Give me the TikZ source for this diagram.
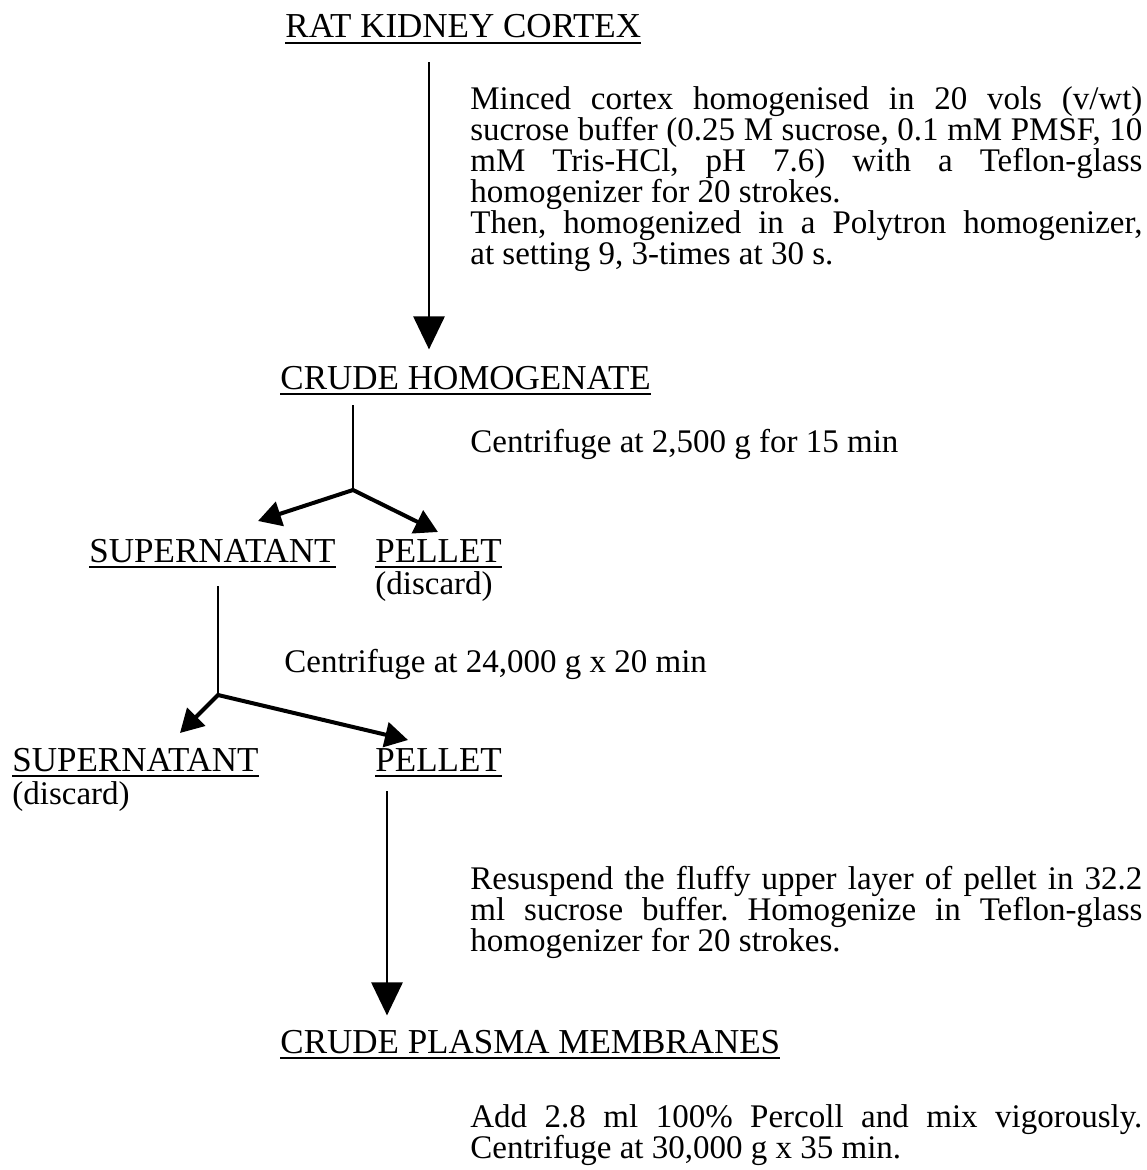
\documentclass[tikz,border=0pt]{standalone}
\usepackage{fontspec}
\setmainfont{Liberation Serif}
\usepackage{tikz}
\usetikzlibrary{arrows.meta,positioning}

\newcommand{\bodyfont}{\fontsize{16.5}{15.5}\selectfont\frenchspacing\lineskiplimit=-20pt\hyphenpenalty=10000\exhyphenpenalty=10000}
\newcommand{\headfont}{\fontsize{17.5}{16}\selectfont}
\newcommand{\ulabel}[1]{\setbox0\hbox{#1}\rlap{\rule[-3pt]{\wd0}{1.1pt}}\box0}

\begin{document}
\begin{tikzpicture}[
    x=0.5pt, y=-0.5pt,
    stage/.style={anchor=base west, inner sep=0pt, font=\headfont},
    plain/.style={anchor=base west, inner sep=0pt, font=\bodyfont},
    note/.style={anchor=base west, inner sep=0pt, text width=336pt, align=justify, font=\bodyfont},
    stemline/.style={line width=1.4pt},
    arrow/.style={-{Triangle[length=16.5pt, width=15.5pt]}, line width=1.4pt},
    branch/.style={-{Triangle[length=11.5pt, width=12.5pt]}, line width=2pt, line cap=round}
]
\useasboundingbox (0,0) rectangle (1146,1170);

% Stages
\node[stage] (kidney) at (285,38) {\ulabel{RAT KIDNEY CORTEX}};
\node[stage] (crude) at (280,389) {\ulabel{CRUDE HOMOGENATE}};
\node[stage, anchor=base east] (super1) at (336,562) {\ulabel{SUPERNATANT}};
\node[stage] (pellet1) at (375,562) {\ulabel{PELLET}};
\node[plain] (discard1) at ([yshift=-16pt]pellet1.base west) {(discard)};
\node[stage] (super2) at (12,771) {\ulabel{SUPERNATANT}};
\node[plain] (discard2) at ([yshift=-16.5pt]super2.base west) {(discard)};
\node[stage] (pellet2) at (375,771) {\ulabel{PELLET}};
\node[stage] (membranes) at (280,1053) {\ulabel{CRUDE PLASMA MEMBRANES}};

% Steps
\node[note] (homog) at (470,110) {Minced cortex homogenised in 20 vols (v/wt)\linebreak
  sucrose buffer (0.25 M sucrose, 0.1 mM PMSF, 10\linebreak
  mM Tris-HCl, pH 7.6) with a Teflon-glass\linebreak
  homogenizer for 20 strokes.\par
  Then, homogenized in a Polytron homogenizer,\linebreak
  at setting 9, 3-times at 30 s.};
\node[plain] (spin1) at (470,452) {Centrifuge at 2,500 g for 15 min};
\node[plain] (spin2) at (284,672) {Centrifuge at 24,000 g x 20 min};
\node[note] (resus) at (470,889) {Resuspend the fluffy upper layer of pellet in 32.2\linebreak
  ml sucrose buffer. Homogenize in Teflon-glass\linebreak
  homogenizer for 20 strokes.};
\node[note] (percoll) at (470,1127) {Add 2.8 ml 100\% Percoll and mix vigorously.\linebreak
  Centrifuge at 30,000 g x 35 min.};

% Forks
\coordinate (stem1) at (429,0);
\coordinate (fork1) at (353,490);
\coordinate (left1) at (258,521);
\coordinate (right1) at (438,532);
\coordinate (fork2) at (218,695);
\coordinate (left2) at (180,733);
\coordinate (right2) at (408,740);
\coordinate (stem2) at (387,0);

% Connections
\draw[arrow, shorten <=9pt, shorten >=8pt] (kidney.south -| stem1) -- (crude.north -| stem1);
\draw[stemline, shorten <=5pt] (crude.south -| fork1) -- (fork1);
\draw[branch] (fork1) -- (left1);
\draw[branch] (fork1) -- (right1);
\draw[stemline, shorten <=9pt] (super1.south -| fork2) -- (fork2);
\draw[branch] (fork2) -- (left2);
\draw[branch] (fork2) -- (right2);
\draw[arrow, shorten <=7pt, shorten >=7pt] (pellet2.south -| stem2) -- (membranes.north -| stem2);

\end{tikzpicture}
\end{document}
